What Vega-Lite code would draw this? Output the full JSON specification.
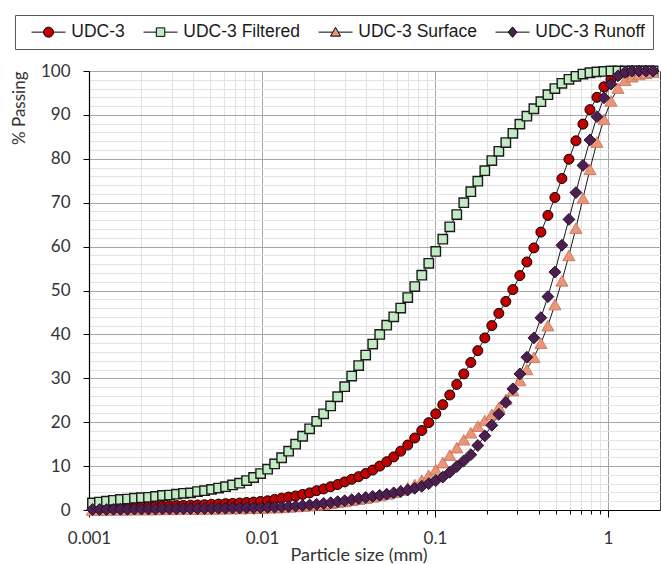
{
"$schema":"https://vega.github.io/schema/vega-lite/v6.json",
"width":571,"height":439,
"autosize":{"type":"none"},
"padding":{"left":89,"top":71,"right":1,"bottom":54},
"background":"white",
"config":{"view":{"stroke":"#404040","strokeWidth":1}},
"data":{"values":[
{"series":"UDC-3","size":0.001047,"pct":0.4},{"series":"UDC-3","size":0.001149,"pct":0.45},{"series":"UDC-3","size":0.001261,"pct":0.5},{"series":"UDC-3","size":0.001385,"pct":0.55},{"series":"UDC-3","size":0.00152,"pct":0.6},{"series":"UDC-3","size":0.001669,"pct":0.65},{"series":"UDC-3","size":0.001832,"pct":0.7},{"series":"UDC-3","size":0.00201,"pct":0.75},{"series":"UDC-3","size":0.002207,"pct":0.8},{"series":"UDC-3","size":0.002423,"pct":0.85},
{"series":"UDC-3","size":0.00266,"pct":0.9},{"series":"UDC-3","size":0.00292,"pct":0.95},{"series":"UDC-3","size":0.003205,"pct":1.0},{"series":"UDC-3","size":0.003519,"pct":1.05},{"series":"UDC-3","size":0.003863,"pct":1.1},{"series":"UDC-3","size":0.00424,"pct":1.15},{"series":"UDC-3","size":0.004655,"pct":1.2},{"series":"UDC-3","size":0.00511,"pct":1.3},{"series":"UDC-3","size":0.00561,"pct":1.35},{"series":"UDC-3","size":0.006158,"pct":1.45},
{"series":"UDC-3","size":0.00676,"pct":1.5},{"series":"UDC-3","size":0.007421,"pct":1.6},{"series":"UDC-3","size":0.008147,"pct":1.7},{"series":"UDC-3","size":0.008943,"pct":1.8},{"series":"UDC-3","size":0.009818,"pct":1.95},{"series":"UDC-3","size":0.01078,"pct":2.1},{"series":"UDC-3","size":0.01183,"pct":2.4},{"series":"UDC-3","size":0.01299,"pct":2.7},{"series":"UDC-3","size":0.01426,"pct":2.95},{"series":"UDC-3","size":0.01565,"pct":3.2},
{"series":"UDC-3","size":0.01718,"pct":3.55},{"series":"UDC-3","size":0.01886,"pct":3.9},{"series":"UDC-3","size":0.02071,"pct":4.4},{"series":"UDC-3","size":0.02273,"pct":4.8},{"series":"UDC-3","size":0.02495,"pct":5.3},{"series":"UDC-3","size":0.02739,"pct":5.8},{"series":"UDC-3","size":0.03007,"pct":6.4},{"series":"UDC-3","size":0.03301,"pct":7.0},{"series":"UDC-3","size":0.03624,"pct":7.6},{"series":"UDC-3","size":0.03978,"pct":8.3},
{"series":"UDC-3","size":0.04367,"pct":9.1},{"series":"UDC-3","size":0.04794,"pct":10.0},{"series":"UDC-3","size":0.05262,"pct":11.0},{"series":"UDC-3","size":0.05777,"pct":12.1},{"series":"UDC-3","size":0.06342,"pct":13.4},{"series":"UDC-3","size":0.06962,"pct":14.8},{"series":"UDC-3","size":0.07643,"pct":16.4},{"series":"UDC-3","size":0.0839,"pct":18.1},{"series":"UDC-3","size":0.0921,"pct":19.9},{"series":"UDC-3","size":0.1011,"pct":21.9},
{"series":"UDC-3","size":0.111,"pct":24.0},{"series":"UDC-3","size":0.1218,"pct":26.2},{"series":"UDC-3","size":0.1337,"pct":28.6},{"series":"UDC-3","size":0.1468,"pct":31.0},{"series":"UDC-3","size":0.1612,"pct":33.6},{"series":"UDC-3","size":0.1769,"pct":36.3},{"series":"UDC-3","size":0.1942,"pct":39.2},{"series":"UDC-3","size":0.2132,"pct":42.0},{"series":"UDC-3","size":0.2341,"pct":44.8},{"series":"UDC-3","size":0.2569,"pct":47.5},
{"series":"UDC-3","size":0.2821,"pct":50.2},{"series":"UDC-3","size":0.3096,"pct":53.4},{"series":"UDC-3","size":0.3399,"pct":56.5},{"series":"UDC-3","size":0.3731,"pct":59.7},{"series":"UDC-3","size":0.4096,"pct":63.3},{"series":"UDC-3","size":0.4497,"pct":67.1},{"series":"UDC-3","size":0.4936,"pct":71.2},{"series":"UDC-3","size":0.5419,"pct":75.5},{"series":"UDC-3","size":0.5949,"pct":79.9},{"series":"UDC-3","size":0.653,"pct":84.1},
{"series":"UDC-3","size":0.7169,"pct":87.9},{"series":"UDC-3","size":0.7869,"pct":91.2},{"series":"UDC-3","size":0.8639,"pct":94.0},{"series":"UDC-3","size":0.9483,"pct":96.4},{"series":"UDC-3","size":1.041,"pct":98.1},{"series":"UDC-3","size":1.143,"pct":99.1},{"series":"UDC-3","size":1.255,"pct":99.6},{"series":"UDC-3","size":1.377,"pct":99.9},{"series":"UDC-3","size":1.512,"pct":100},{"series":"UDC-3","size":1.66,"pct":100},{"series":"UDC-3","size":1.822,"pct":100},

{"series":"UDC-3 Filtered","size":0.001047,"pct":1.6},{"series":"UDC-3 Filtered","size":0.001149,"pct":1.8},{"series":"UDC-3 Filtered","size":0.001261,"pct":2.0},{"series":"UDC-3 Filtered","size":0.001385,"pct":2.2},{"series":"UDC-3 Filtered","size":0.00152,"pct":2.4},{"series":"UDC-3 Filtered","size":0.001669,"pct":2.5},{"series":"UDC-3 Filtered","size":0.001832,"pct":2.7},{"series":"UDC-3 Filtered","size":0.00201,"pct":2.8},{"series":"UDC-3 Filtered","size":0.002207,"pct":2.9},{"series":"UDC-3 Filtered","size":0.002423,"pct":3.1},
{"series":"UDC-3 Filtered","size":0.00266,"pct":3.3},{"series":"UDC-3 Filtered","size":0.00292,"pct":3.4},{"series":"UDC-3 Filtered","size":0.003205,"pct":3.6},{"series":"UDC-3 Filtered","size":0.003519,"pct":3.8},{"series":"UDC-3 Filtered","size":0.003863,"pct":3.9},{"series":"UDC-3 Filtered","size":0.00424,"pct":4.2},{"series":"UDC-3 Filtered","size":0.004655,"pct":4.4},{"series":"UDC-3 Filtered","size":0.00511,"pct":4.7},{"series":"UDC-3 Filtered","size":0.00561,"pct":5.0},{"series":"UDC-3 Filtered","size":0.006158,"pct":5.3},
{"series":"UDC-3 Filtered","size":0.00676,"pct":5.7},{"series":"UDC-3 Filtered","size":0.007421,"pct":6.1},{"series":"UDC-3 Filtered","size":0.008147,"pct":6.7},{"series":"UDC-3 Filtered","size":0.008943,"pct":7.4},{"series":"UDC-3 Filtered","size":0.009818,"pct":8.3},{"series":"UDC-3 Filtered","size":0.01078,"pct":9.3},{"series":"UDC-3 Filtered","size":0.01183,"pct":10.5},{"series":"UDC-3 Filtered","size":0.01299,"pct":11.9},{"series":"UDC-3 Filtered","size":0.01426,"pct":13.4},{"series":"UDC-3 Filtered","size":0.01565,"pct":15.0},
{"series":"UDC-3 Filtered","size":0.01718,"pct":16.8},{"series":"UDC-3 Filtered","size":0.01886,"pct":18.5},{"series":"UDC-3 Filtered","size":0.02071,"pct":20.2},{"series":"UDC-3 Filtered","size":0.02273,"pct":21.9},{"series":"UDC-3 Filtered","size":0.02495,"pct":23.7},{"series":"UDC-3 Filtered","size":0.02739,"pct":25.8},{"series":"UDC-3 Filtered","size":0.03007,"pct":28.1},{"series":"UDC-3 Filtered","size":0.03301,"pct":30.5},{"series":"UDC-3 Filtered","size":0.03624,"pct":32.9},{"series":"UDC-3 Filtered","size":0.03978,"pct":35.3},
{"series":"UDC-3 Filtered","size":0.04367,"pct":37.8},{"series":"UDC-3 Filtered","size":0.04794,"pct":40.0},{"series":"UDC-3 Filtered","size":0.05262,"pct":42.1},{"series":"UDC-3 Filtered","size":0.05777,"pct":44.0},{"series":"UDC-3 Filtered","size":0.06342,"pct":46.0},{"series":"UDC-3 Filtered","size":0.06962,"pct":48.4},{"series":"UDC-3 Filtered","size":0.07643,"pct":50.9},{"series":"UDC-3 Filtered","size":0.0839,"pct":53.5},{"series":"UDC-3 Filtered","size":0.0921,"pct":56.2},{"series":"UDC-3 Filtered","size":0.1011,"pct":58.9},
{"series":"UDC-3 Filtered","size":0.111,"pct":61.7},{"series":"UDC-3 Filtered","size":0.1218,"pct":64.5},{"series":"UDC-3 Filtered","size":0.1337,"pct":67.3},{"series":"UDC-3 Filtered","size":0.1468,"pct":70.0},{"series":"UDC-3 Filtered","size":0.1612,"pct":72.5},{"series":"UDC-3 Filtered","size":0.1769,"pct":74.9},{"series":"UDC-3 Filtered","size":0.1942,"pct":77.3},{"series":"UDC-3 Filtered","size":0.2132,"pct":79.6},{"series":"UDC-3 Filtered","size":0.2341,"pct":81.7},{"series":"UDC-3 Filtered","size":0.2569,"pct":83.7},
{"series":"UDC-3 Filtered","size":0.2821,"pct":85.8},{"series":"UDC-3 Filtered","size":0.3096,"pct":87.9},{"series":"UDC-3 Filtered","size":0.3399,"pct":89.7},{"series":"UDC-3 Filtered","size":0.3731,"pct":91.4},{"series":"UDC-3 Filtered","size":0.4096,"pct":93.0},{"series":"UDC-3 Filtered","size":0.4497,"pct":94.6},{"series":"UDC-3 Filtered","size":0.4936,"pct":96.0},{"series":"UDC-3 Filtered","size":0.5419,"pct":97.2},{"series":"UDC-3 Filtered","size":0.5949,"pct":98.1},{"series":"UDC-3 Filtered","size":0.653,"pct":98.8},
{"series":"UDC-3 Filtered","size":0.7169,"pct":99.3},{"series":"UDC-3 Filtered","size":0.7869,"pct":99.6},{"series":"UDC-3 Filtered","size":0.8639,"pct":99.8},{"series":"UDC-3 Filtered","size":0.9483,"pct":99.9},{"series":"UDC-3 Filtered","size":1.041,"pct":100},{"series":"UDC-3 Filtered","size":1.143,"pct":100},{"series":"UDC-3 Filtered","size":1.255,"pct":100},{"series":"UDC-3 Filtered","size":1.377,"pct":100},{"series":"UDC-3 Filtered","size":1.512,"pct":100},{"series":"UDC-3 Filtered","size":1.66,"pct":100},{"series":"UDC-3 Filtered","size":1.822,"pct":100},

{"series":"UDC-3 Surface","size":0.001047,"pct":0.0},{"series":"UDC-3 Surface","size":0.001149,"pct":0.0},{"series":"UDC-3 Surface","size":0.001261,"pct":0.0},{"series":"UDC-3 Surface","size":0.001385,"pct":0.05},{"series":"UDC-3 Surface","size":0.00152,"pct":0.05},{"series":"UDC-3 Surface","size":0.001669,"pct":0.05},{"series":"UDC-3 Surface","size":0.001832,"pct":0.1},{"series":"UDC-3 Surface","size":0.00201,"pct":0.1},{"series":"UDC-3 Surface","size":0.002207,"pct":0.1},{"series":"UDC-3 Surface","size":0.002423,"pct":0.1},
{"series":"UDC-3 Surface","size":0.00266,"pct":0.15},{"series":"UDC-3 Surface","size":0.00292,"pct":0.15},{"series":"UDC-3 Surface","size":0.003205,"pct":0.15},{"series":"UDC-3 Surface","size":0.003519,"pct":0.2},{"series":"UDC-3 Surface","size":0.003863,"pct":0.2},{"series":"UDC-3 Surface","size":0.00424,"pct":0.2},{"series":"UDC-3 Surface","size":0.004655,"pct":0.25},{"series":"UDC-3 Surface","size":0.00511,"pct":0.25},{"series":"UDC-3 Surface","size":0.00561,"pct":0.3},{"series":"UDC-3 Surface","size":0.006158,"pct":0.3},
{"series":"UDC-3 Surface","size":0.00676,"pct":0.35},{"series":"UDC-3 Surface","size":0.007421,"pct":0.35},{"series":"UDC-3 Surface","size":0.008147,"pct":0.4},{"series":"UDC-3 Surface","size":0.008943,"pct":0.4},{"series":"UDC-3 Surface","size":0.009818,"pct":0.45},{"series":"UDC-3 Surface","size":0.01078,"pct":0.5},{"series":"UDC-3 Surface","size":0.01183,"pct":0.55},{"series":"UDC-3 Surface","size":0.01299,"pct":0.6},{"series":"UDC-3 Surface","size":0.01426,"pct":0.7},{"series":"UDC-3 Surface","size":0.01565,"pct":0.8},
{"series":"UDC-3 Surface","size":0.01718,"pct":0.9},{"series":"UDC-3 Surface","size":0.01886,"pct":1.0},{"series":"UDC-3 Surface","size":0.02071,"pct":1.15},{"series":"UDC-3 Surface","size":0.02273,"pct":1.3},{"series":"UDC-3 Surface","size":0.02495,"pct":1.5},{"series":"UDC-3 Surface","size":0.02739,"pct":1.75},{"series":"UDC-3 Surface","size":0.03007,"pct":1.95},{"series":"UDC-3 Surface","size":0.03301,"pct":2.2},{"series":"UDC-3 Surface","size":0.03624,"pct":2.45},{"series":"UDC-3 Surface","size":0.03978,"pct":2.7},
{"series":"UDC-3 Surface","size":0.04367,"pct":3.0},{"series":"UDC-3 Surface","size":0.04794,"pct":3.3},{"series":"UDC-3 Surface","size":0.05262,"pct":3.65},{"series":"UDC-3 Surface","size":0.05777,"pct":4.05},{"series":"UDC-3 Surface","size":0.06342,"pct":4.5},{"series":"UDC-3 Surface","size":0.06962,"pct":5.1},{"series":"UDC-3 Surface","size":0.07643,"pct":5.8},{"series":"UDC-3 Surface","size":0.0839,"pct":6.8},{"series":"UDC-3 Surface","size":0.0921,"pct":7.9},{"series":"UDC-3 Surface","size":0.1011,"pct":9.2},
{"series":"UDC-3 Surface","size":0.111,"pct":10.8},{"series":"UDC-3 Surface","size":0.1218,"pct":12.5},{"series":"UDC-3 Surface","size":0.1337,"pct":14.2},{"series":"UDC-3 Surface","size":0.1468,"pct":16.0},{"series":"UDC-3 Surface","size":0.1612,"pct":17.6},{"series":"UDC-3 Surface","size":0.1769,"pct":19.1},{"series":"UDC-3 Surface","size":0.1942,"pct":20.4},{"series":"UDC-3 Surface","size":0.2132,"pct":21.8},{"series":"UDC-3 Surface","size":0.2341,"pct":23.4},{"series":"UDC-3 Surface","size":0.2569,"pct":25.2},
{"series":"UDC-3 Surface","size":0.2821,"pct":27.2},{"series":"UDC-3 Surface","size":0.3096,"pct":29.5},{"series":"UDC-3 Surface","size":0.3399,"pct":32.0},{"series":"UDC-3 Surface","size":0.3731,"pct":34.8},{"series":"UDC-3 Surface","size":0.4096,"pct":38.0},{"series":"UDC-3 Surface","size":0.4497,"pct":42.0},{"series":"UDC-3 Surface","size":0.4936,"pct":46.8},{"series":"UDC-3 Surface","size":0.5419,"pct":52.2},{"series":"UDC-3 Surface","size":0.5949,"pct":58.0},{"series":"UDC-3 Surface","size":0.653,"pct":64.2},
{"series":"UDC-3 Surface","size":0.7169,"pct":71.0},{"series":"UDC-3 Surface","size":0.7869,"pct":77.6},{"series":"UDC-3 Surface","size":0.8639,"pct":83.8},{"series":"UDC-3 Surface","size":0.9483,"pct":89.0},{"series":"UDC-3 Surface","size":1.041,"pct":93.2},{"series":"UDC-3 Surface","size":1.143,"pct":96.1},{"series":"UDC-3 Surface","size":1.255,"pct":97.9},{"series":"UDC-3 Surface","size":1.377,"pct":98.7},{"series":"UDC-3 Surface","size":1.512,"pct":99.2},{"series":"UDC-3 Surface","size":1.66,"pct":99.5},{"series":"UDC-3 Surface","size":1.822,"pct":99.7},

{"series":"UDC-3 Runoff","size":0.001047,"pct":0.1},{"series":"UDC-3 Runoff","size":0.001149,"pct":0.1},{"series":"UDC-3 Runoff","size":0.001261,"pct":0.1},{"series":"UDC-3 Runoff","size":0.001385,"pct":0.15},{"series":"UDC-3 Runoff","size":0.00152,"pct":0.15},{"series":"UDC-3 Runoff","size":0.001669,"pct":0.15},{"series":"UDC-3 Runoff","size":0.001832,"pct":0.2},{"series":"UDC-3 Runoff","size":0.00201,"pct":0.2},{"series":"UDC-3 Runoff","size":0.002207,"pct":0.2},{"series":"UDC-3 Runoff","size":0.002423,"pct":0.2},
{"series":"UDC-3 Runoff","size":0.00266,"pct":0.25},{"series":"UDC-3 Runoff","size":0.00292,"pct":0.25},{"series":"UDC-3 Runoff","size":0.003205,"pct":0.25},{"series":"UDC-3 Runoff","size":0.003519,"pct":0.3},{"series":"UDC-3 Runoff","size":0.003863,"pct":0.3},{"series":"UDC-3 Runoff","size":0.00424,"pct":0.3},{"series":"UDC-3 Runoff","size":0.004655,"pct":0.35},{"series":"UDC-3 Runoff","size":0.00511,"pct":0.35},{"series":"UDC-3 Runoff","size":0.00561,"pct":0.4},{"series":"UDC-3 Runoff","size":0.006158,"pct":0.4},
{"series":"UDC-3 Runoff","size":0.00676,"pct":0.45},{"series":"UDC-3 Runoff","size":0.007421,"pct":0.45},{"series":"UDC-3 Runoff","size":0.008147,"pct":0.5},{"series":"UDC-3 Runoff","size":0.008943,"pct":0.5},{"series":"UDC-3 Runoff","size":0.009818,"pct":0.55},{"series":"UDC-3 Runoff","size":0.01078,"pct":0.6},{"series":"UDC-3 Runoff","size":0.01183,"pct":0.65},{"series":"UDC-3 Runoff","size":0.01299,"pct":0.7},{"series":"UDC-3 Runoff","size":0.01426,"pct":0.8},{"series":"UDC-3 Runoff","size":0.01565,"pct":0.9},
{"series":"UDC-3 Runoff","size":0.01718,"pct":1.0},{"series":"UDC-3 Runoff","size":0.01886,"pct":1.15},{"series":"UDC-3 Runoff","size":0.02071,"pct":1.3},{"series":"UDC-3 Runoff","size":0.02273,"pct":1.5},{"series":"UDC-3 Runoff","size":0.02495,"pct":1.65},{"series":"UDC-3 Runoff","size":0.02739,"pct":1.9},{"series":"UDC-3 Runoff","size":0.03007,"pct":2.1},{"series":"UDC-3 Runoff","size":0.03301,"pct":2.35},{"series":"UDC-3 Runoff","size":0.03624,"pct":2.6},{"series":"UDC-3 Runoff","size":0.03978,"pct":2.85},
{"series":"UDC-3 Runoff","size":0.04367,"pct":3.1},{"series":"UDC-3 Runoff","size":0.04794,"pct":3.35},{"series":"UDC-3 Runoff","size":0.05262,"pct":3.6},{"series":"UDC-3 Runoff","size":0.05777,"pct":3.9},{"series":"UDC-3 Runoff","size":0.06342,"pct":4.2},{"series":"UDC-3 Runoff","size":0.06962,"pct":4.55},{"series":"UDC-3 Runoff","size":0.07643,"pct":4.95},{"series":"UDC-3 Runoff","size":0.0839,"pct":5.4},{"series":"UDC-3 Runoff","size":0.0921,"pct":6.0},{"series":"UDC-3 Runoff","size":0.1011,"pct":6.7},
{"series":"UDC-3 Runoff","size":0.111,"pct":7.5},{"series":"UDC-3 Runoff","size":0.1218,"pct":8.6},{"series":"UDC-3 Runoff","size":0.1337,"pct":9.9},{"series":"UDC-3 Runoff","size":0.1468,"pct":11.2},{"series":"UDC-3 Runoff","size":0.1612,"pct":12.6},{"series":"UDC-3 Runoff","size":0.1769,"pct":14.7},{"series":"UDC-3 Runoff","size":0.1942,"pct":16.9},{"series":"UDC-3 Runoff","size":0.2132,"pct":19.3},{"series":"UDC-3 Runoff","size":0.2341,"pct":21.8},{"series":"UDC-3 Runoff","size":0.2569,"pct":24.5},
{"series":"UDC-3 Runoff","size":0.2821,"pct":27.6},{"series":"UDC-3 Runoff","size":0.3096,"pct":31.0},{"series":"UDC-3 Runoff","size":0.3399,"pct":34.8},{"series":"UDC-3 Runoff","size":0.3731,"pct":39.2},{"series":"UDC-3 Runoff","size":0.4096,"pct":43.8},{"series":"UDC-3 Runoff","size":0.4497,"pct":48.6},{"series":"UDC-3 Runoff","size":0.4936,"pct":54.2},{"series":"UDC-3 Runoff","size":0.5419,"pct":60.3},{"series":"UDC-3 Runoff","size":0.5949,"pct":66.2},{"series":"UDC-3 Runoff","size":0.653,"pct":72.3},
{"series":"UDC-3 Runoff","size":0.7169,"pct":78.5},{"series":"UDC-3 Runoff","size":0.7869,"pct":84.3},{"series":"UDC-3 Runoff","size":0.8639,"pct":89.6},{"series":"UDC-3 Runoff","size":0.9483,"pct":93.9},{"series":"UDC-3 Runoff","size":1.041,"pct":97.0},{"series":"UDC-3 Runoff","size":1.143,"pct":98.9},{"series":"UDC-3 Runoff","size":1.255,"pct":99.7},{"series":"UDC-3 Runoff","size":1.377,"pct":100},{"series":"UDC-3 Runoff","size":1.512,"pct":100},{"series":"UDC-3 Runoff","size":1.66,"pct":100},{"series":"UDC-3 Runoff","size":1.822,"pct":100}
]},
"encoding":{
"x":{"field":"size","type":"quantitative","scale":{"type":"log","domain":[0.001,2],"nice":false},
"axis":{"title":"Particle size (mm)","values":[0.001,0.002,0.003,0.004,0.005,0.006,0.007,0.008,0.009,0.01,0.02,0.03,0.04,0.05,0.06,0.07,0.08,0.09,0.1,0.2,0.3,0.4,0.5,0.6,0.7,0.8,0.9,1],
"format":"~g","labelExpr":"(datum.value==0.001||datum.value==0.01||datum.value==0.1||datum.value==1)?datum.label:''",
"labelOverlap":false,"labelFlush":false,"labelBound":false,
"grid":true,"gridColor":{"condition":{"test":"datum.value==0.01||datum.value==0.1||datum.value==1","value":"#a6a6a6"},"value":"#e3e3e3"},"gridWidth":1,
"tickSize":{"condition":{"test":"datum.value==0.001||datum.value==0.01||datum.value==0.1||datum.value==1","value":7},"value":4},
"tickColor":"#000","tickWidth":1,"domainColor":"#000","domainWidth":1.2,
"labelFont":"Lato","labelFontSize":17,"labelColor":"#333","labelPadding":13,
"titleFont":"Lato","titleFontSize":18,"titleColor":"#333","titleFontWeight":"normal","titleX":269.5,"titleY":36,"titleBaseline":"top","titleAlign":"center","titleAnchor":null}},
"y":{"field":"pct","type":"quantitative","scale":{"domain":[0,100],"nice":false},
"axis":{"title":"% Passing","values":[0,2,4,6,8,10,12,14,16,18,20,22,24,26,28,30,32,34,36,38,40,42,44,46,48,50,52,54,56,58,60,62,64,66,68,70,72,74,76,78,80,82,84,86,88,90,92,94,96,98,100],
"labelExpr":"datum.value % 10 == 0 ? datum.label : ''","labelOverlap":false,"labelFlush":false,"labelBound":false,
"grid":true,"gridColor":{"condition":{"test":"datum.value % 10 == 0","value":"#a6a6a6"},"value":"#e3e3e3"},"gridWidth":1,
"tickSize":{"condition":{"test":"datum.value % 10 == 0","value":6},"value":0},
"tickColor":"#000","domainColor":"#000","domainWidth":1.2,
"labelFont":"Lato","labelFontSize":17,"labelColor":"#333","labelPadding":13,
"titleFont":"Lato","titleFontSize":17,"titleColor":"#333","titleFontWeight":"normal","titleX":-70,"titleY":0,"titleAngle":-90,"titleAlign":"right","titleBaseline":"middle","titleAnchor":null}}
},
"layer":[
{"mark":{"type":"line","stroke":"#1a1a1a","strokeWidth":1},"encoding":{"detail":{"field":"series"}}},
{"transform":[{"filter":"datum.series=='UDC-3'"}],"mark":{"type":"point","shape":"circle","filled":true,"fill":"#C00000","stroke":"#000000","strokeWidth":1,"size":100,"opacity":1}},
{"transform":[{"filter":"datum.series=='UDC-3 Filtered'"}],"mark":{"type":"point","shape":"square","filled":true,"fill":"#C2EBC4","stroke":"#1a1a1a","strokeWidth":1.4,"size":88,"opacity":1}},
{"transform":[{"filter":"datum.series=='UDC-3 Surface'"}],"mark":{"type":"point","shape":"triangle-up","filled":true,"fill":"#EC9476","stroke":"#C0705A","strokeWidth":0.8,"size":150,"opacity":1}},
{"transform":[{"filter":"datum.series=='UDC-3 Runoff'"}],"mark":{"type":"point","shape":"diamond","filled":true,"fill":"#4B1F4E","stroke":"#2B0F2D","strokeWidth":1,"size":140,"opacity":1}},
{"transform":[{"filter":"false"}],"mark":{"type":"point","filled":true,"stroke":"#000000","strokeWidth":1,"size":256,"opacity":1},
"encoding":{
"shape":{"field":"series","type":"nominal","scale":{"domain":["UDC-3","UDC-3 Filtered","UDC-3 Surface","UDC-3 Runoff"],"range":["M-2.125,0H-0.625M0.625,0H2.125M-0.625,0A0.625,0.625,0,1,1,0.625,0A0.625,0.625,0,1,1,-0.625,0Z","M-2.125,0H-0.53M0.53,0H2.125M-0.53,-0.53H0.53V0.53H-0.53Z","M-2.125,0H-0.34M0.34,0H2.125M0,-0.6L0.625,0.5L-0.625,0.5Z","M-2.125,0H-0.55M0.55,0H2.125M0,-0.65L0.55,0L0,0.65L-0.55,0Z"]},
"legend":{"title":null,"orient":"none","legendX":-74,"legendY":-56,"direction":"horizontal","columns":4,"padding":8,"strokeColor":"#595959","fillColor":"#ffffff","symbolSize":256,"symbolStrokeWidth":1,"symbolStrokeColor":"#000000","symbolOpacity":1,"symbolOffset":16.8,"labelOffset":14,"labelFont":"Liberation Sans","labelFontSize":17.5,"labelColor":"#1a1a1a","columnPadding":10,"labelLimit":300,
"encode":{"symbols":{"update":{"stroke":{"value":"#000000"},"strokeWidth":{"value":1}}}}}},
"fill":{"field":"series","type":"nominal","scale":{"domain":["UDC-3","UDC-3 Filtered","UDC-3 Surface","UDC-3 Runoff"],"range":["#C00000","#C2EBC4","#EC9476","#4B1F4E"]},
"legend":{"title":null,"orient":"none","legendX":-74,"legendY":-56,"direction":"horizontal","columns":4,"padding":8,"strokeColor":"#595959","fillColor":"#ffffff","symbolSize":256,"symbolStrokeWidth":1,"symbolStrokeColor":"#000000","symbolOpacity":1,"symbolOffset":16.8,"labelOffset":14,"labelFont":"Liberation Sans","labelFontSize":17.5,"labelColor":"#1a1a1a","columnPadding":10,"labelLimit":300,
"encode":{"symbols":{"update":{"stroke":{"value":"#000000"},"strokeWidth":{"value":1}}}}}}
}}
]
}
